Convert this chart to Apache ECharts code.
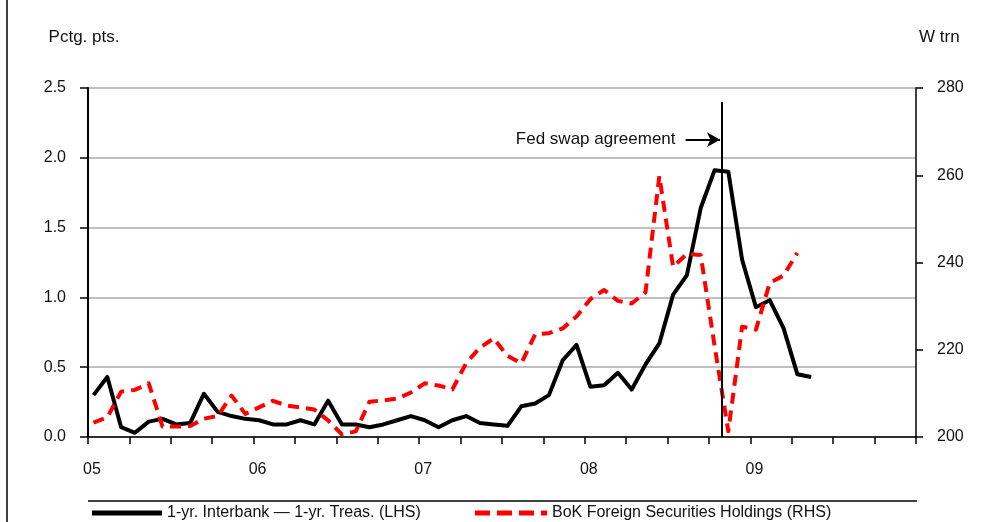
<!DOCTYPE html>
<html><head><meta charset="utf-8">
<script src="https://cdn.jsdelivr.net/npm/echarts@6/dist/echarts.min.js"></script>
<style>html,body{margin:0;padding:0;background:#fff}#c{width:989px;height:522px}</style>
</head><body><div id="c"></div>
<script>
// ---- data ----
const yearLabels = ['05', '06', '07', '08', '09'];   // Jan of each year, months counted from Jan 2005
const leftTicks = [0, 0.5, 1.0, 1.5, 2.0, 2.5];
const rightTicks = [200, 220, 240, 260, 280];
const seriesNames = ['1-yr. Interbank \u2014 1-yr. Treas. (LHS)', 'BoK Foreign Securities Holdings (RHS)'];
// monthly, Jan 2005 .. May 2009 (pctg. pts.)
const spreadLHS = [0.30,0.43,0.07,0.03,0.11,0.13,0.09,0.10,0.31,0.18,
                   0.15,0.13,0.12,0.09,0.09,0.12,0.09,0.26,0.09,0.09,
                   0.07,0.09,0.12,0.15,0.12,0.07,0.12,0.15,0.10,0.09,
                   0.08,0.22,0.24,0.30,0.55,0.66,0.36,0.37,0.46,0.34,
                   0.52,0.67,1.02,1.16,1.64,1.91,1.90,1.27,0.93,0.98,
                   0.78,0.45,0.43];
// monthly, Jan 2005 .. Apr 2009 (W trn)
const bokRHS = [203.3,204.5,210.4,210.8,212.3,202.4,202.4,202.5,204.2,204.8,
                209.5,205.3,206.8,208.3,207.2,206.8,206.3,203.8,200.6,201.3,
                208.1,208.4,208.8,210.2,212.3,211.8,210.9,216.9,220.5,222.6,
                218.6,216.9,223.5,223.8,224.9,227.6,231.6,233.7,231.2,230.6,
                233.2,259.8,239.0,242.0,241.7,221.0,201.3,225.3,224.6,235.3,
                237.0,242.2];
const monthOffset = 0.4;         // observation placed within its month
const swapMonth = 45.94;         // Fed swap agreement, late Oct 2008
const swapLabel = 'Fed swap agreement';
const arrowY = 2.13, arrowFrom = 43.3, arrowTo = 45.8, swapLineTop = 2.4;

const toXY = arr => arr.map((v, i) => [i + monthOffset, v]);

const chart = echarts.init(document.getElementById('c'), null, {renderer: 'canvas'});
const FONT = 'Liberation Sans, Arial, sans-serif';
const txt = {color: '#111', fontFamily: FONT};

const solidIcon = 'path://M0,0H70V5H0Z';
const dashIcon = 'path://M0,0H15V5H0Z M22,0H37V5H22Z M44,0H59V5H44Z M66,0H72V5H66Z';

chart.setOption({
  animation: false,
  backgroundColor: '#fff',
  grid: {left: 88, right: 73, top: 88, bottom: 85, containLabel: false},
  legend: [
    {data: [{name: seriesNames[0], icon: solidIcon}], left: 92, top: 505, padding: 0,
     itemWidth: 70, itemHeight: 5, itemGap: 0,
     textStyle: Object.assign({fontSize: 16}, txt), selectedMode: false},
    {data: [{name: seriesNames[1], icon: dashIcon}], left: 475, top: 505, padding: 0,
     itemWidth: 72, itemHeight: 5, itemGap: 0,
     textStyle: Object.assign({fontSize: 16}, txt), selectedMode: false}
  ],
  xAxis: {
    type: 'value', min: 0, max: yearLabels.length * 12, interval: 3,
    axisLine: {lineStyle: {color: '#000', width: 1.5}},
    axisTick: {length: 7, lineStyle: {color: '#000', width: 1.5}},
    axisLabel: Object.assign({
      fontSize: 16, margin: 25, padding: [0, 0, 0, 8],
      formatter: v => (v % 12 === 0 && v / 12 < yearLabels.length) ? yearLabels[v / 12] : ''
    }, txt),
    splitLine: {show: false}
  },
  yAxis: [
    {
      type: 'value', min: leftTicks[0], max: leftTicks[leftTicks.length - 1], interval: 0.5,
      name: 'Pctg. pts.', nameLocation: 'end', nameGap: 42,
      nameTextStyle: Object.assign({fontSize: 17, align: 'center', padding: [0, 8, 0, 0]}, txt),
      axisLine: {show: true, lineStyle: {color: '#000', width: 2}},
      axisTick: {show: true, length: 8, lineStyle: {color: '#000', width: 1.5}},
      axisLabel: Object.assign({fontSize: 16, margin: 22, formatter: v => v.toFixed(1)}, txt),
      splitLine: {show: true, lineStyle: {color: '#c0c0c0', width: 2}}
    },
    {
      type: 'value', position: 'right', min: rightTicks[0], max: rightTicks[rightTicks.length - 1], interval: 20,
      name: 'W trn', nameLocation: 'end', nameGap: 42,
      nameTextStyle: Object.assign({fontSize: 17, align: 'left', padding: [0, 0, 0, 3]}, txt),
      axisLine: {show: true, lineStyle: {color: '#000', width: 1.5}},
      axisTick: {show: true, length: 7, lineStyle: {color: '#000', width: 1.5}},
      axisLabel: Object.assign({fontSize: 16, margin: 21}, txt),
      splitLine: {show: false}
    }
  ],
  series: [
    {
      name: seriesNames[0], type: 'line', yAxisIndex: 0, data: toXY(spreadLHS),
      symbol: 'none', z: 3,
      lineStyle: {color: '#000', width: 4, join: 'round'},
      itemStyle: {color: '#000'},
      markLine: {
        silent: true, symbol: ['none', 'none'], animation: false,
        lineStyle: {color: '#000', width: 2, type: 'solid'},
        label: {show: false},
        data: [
          [{coord: [swapMonth, 0]}, {coord: [swapMonth, swapLineTop]}],
          [{coord: [arrowFrom, arrowY], symbol: 'none',
            label: Object.assign({show: true, position: 'start', distance: 10, fontSize: 17, formatter: swapLabel}, txt)},
           {coord: [arrowTo, arrowY], symbol: 'arrow', symbolSize: [11, 13]}]
        ]
      }
    },
    {
      name: seriesNames[1], type: 'line', yAxisIndex: 1, data: toXY(bokRHS),
      symbol: 'none', z: 4,
      lineStyle: {color: '#ff0000', width: 4, type: [11, 7], cap: 'butt', join: 'round'},
      itemStyle: {color: '#ff0000'}
    }
  ],
  graphic: [
    {type: 'line', shape: {x1: 7, y1: 0, x2: 7, y2: 522}, style: {stroke: '#000', lineWidth: 1.5}, silent: true},
    {type: 'line', shape: {x1: 88, y1: 501, x2: 917, y2: 501}, style: {stroke: '#000', lineWidth: 1.5}, silent: true}
  ]
});
</script>
</body></html>
